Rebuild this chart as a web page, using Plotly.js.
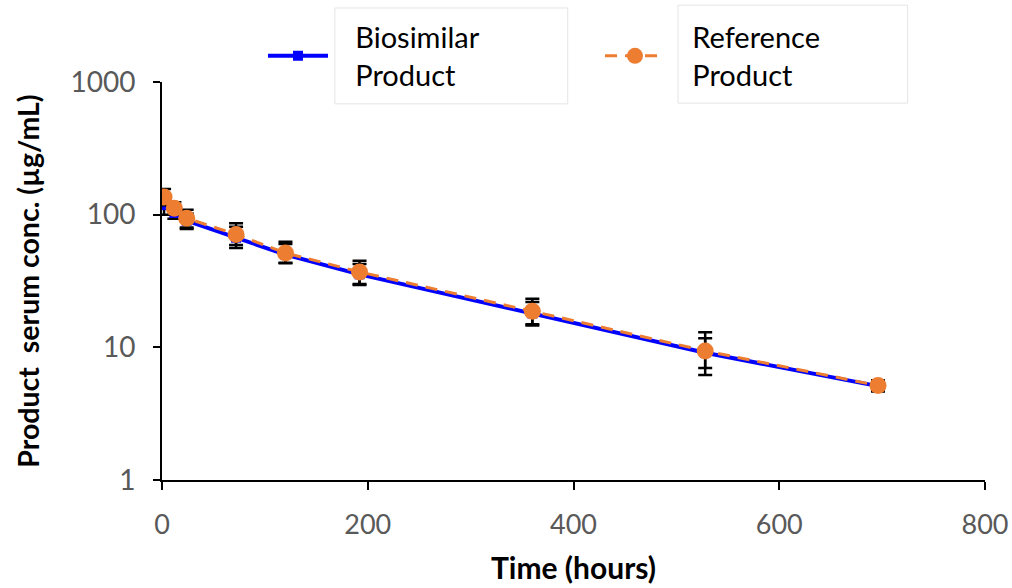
<!DOCTYPE html>
<html>
<head>
<meta charset="utf-8">
<script src="https://cdn.plot.ly/plotly-3.0.1.min.js"></script>
<style>html,body{margin:0;padding:0;background:#fff;}#chart{width:1012px;height:588px;}</style>
</head>
<body>
<div id="chart"></div>
<script>
// Data
const timeHours = [2, 12, 24, 72, 120, 192, 360, 528, 696];
const biosimilar = [118, 103, 90, 67, 50, 35.5, 18, 9.1, 5.1];
const biosimilarErrPlus = [20, 10, 12, 14, 10, 7, 4, 2.6, 0.4];
const biosimilarErrMinus = [18, 10, 12, 11, 7, 6, 3.4, 2.9, 0.4];
const reference = [136, 112, 94, 71, 51.5, 37, 18.7, 9.4, 5.15];
const referenceErrPlus = [20, 12, 15, 15, 11, 8, 4.5, 3.6, 0.5];
const referenceErrMinus = [18, 12, 14, 12, 8, 7, 3.8, 2.4, 0.5];
const seriesNames = ["Biosimilar<br>Product", "Reference<br>Product"];
const xTicks = [0, 200, 400, 600, 800];
const yTicks = [1, 10, 100, 1000];

const FONT = "Lato, 'Open Sans', sans-serif";
const pad = s => s.split("<br>").map(t => "\u00a0\u00a0\u00a0" + t).join("<br>");

const traces = [
  {
    x: timeHours, y: biosimilar, name: pad(seriesNames[0]),
    type: "scatter", mode: "lines+markers",
    line: {color: "#0000FF", width: 4},
    marker: {color: "#0000FF", symbol: "square", size: 10},
    error_y: {type: "data", symmetric: false, array: biosimilarErrPlus, arrayminus: biosimilarErrMinus,
              color: "#000000", thickness: 2.5, width: 7}
  },
  {
    x: timeHours, y: reference, name: pad(seriesNames[1]),
    type: "scatter", mode: "lines+markers",
    line: {color: "#ED7D31", width: 3, dash: "12px,8px"},
    marker: {color: "#ED7D31", symbol: "circle", size: 17},
    error_y: {type: "data", symmetric: false, array: referenceErrPlus, arrayminus: referenceErrMinus,
              color: "#000000", thickness: 2.5, width: 7}
  }
];

const boxLine = {color: "#e4e4e4", width: 1};
const layout = {
  width: 1012, height: 588,
  margin: {l: 162, r: 27, t: 82, b: 108},
  paper_bgcolor: "#ffffff", plot_bgcolor: "#ffffff",
  font: {family: FONT, color: "#595959"},
  showlegend: true,
  legend: {
    orientation: "h", x: 0.1227, y: 1.065, xanchor: "left", yanchor: "middle",
    font: {family: FONT, size: 29, color: "#000000"},
    bgcolor: "rgba(0,0,0,0)", entrywidth: 262, itemwidth: 60, tracegroupgap: 0
  },
  xaxis: {
    range: [0, 800], tickvals: xTicks, ticktext: xTicks.map(String),
    showgrid: false, zeroline: false, showline: true, linecolor: "#000000", linewidth: 2,
    ticks: "outside", ticklen: 8, tickwidth: 2, tickcolor: "#000000", ticklabelstandoff: 12,
    tickfont: {family: FONT, size: 27, color: "#595959"},
    title: {text: "<b>Time (hours)</b>", font: {family: FONT, size: 30, color: "#000000"}, standoff: 19}
  },
  yaxis: {
    type: "log", range: [0, 3], tickvals: yTicks, ticktext: yTicks.map(String),
    showgrid: false, zeroline: false, showline: true, linecolor: "#000000", linewidth: 2,
    ticks: "outside", ticklen: 7, tickwidth: 2, tickcolor: "#000000", ticklabelstandoff: 12,
    tickfont: {family: FONT, size: 28, color: "#595959"},
    title: {text: "<b>Product  serum conc. (µg/mL)</b>", font: {family: FONT, size: 28.5, color: "#000000"}, standoff: 22}
  },
  shapes: [
    {type: "rect", xref: "paper", yref: "paper", x0: 0.210, x1: 0.493, y0: 0.945, y1: 1.186, line: boxLine, layer: "below"},
    {type: "rect", xref: "paper", yref: "paper", x0: 0.627, x1: 0.906, y0: 0.947, y1: 1.193, line: boxLine, layer: "below"}
  ]
};

Plotly.newPlot("chart", traces, layout, {displayModeBar: false, staticPlot: true});
</script>
</body>
</html>
